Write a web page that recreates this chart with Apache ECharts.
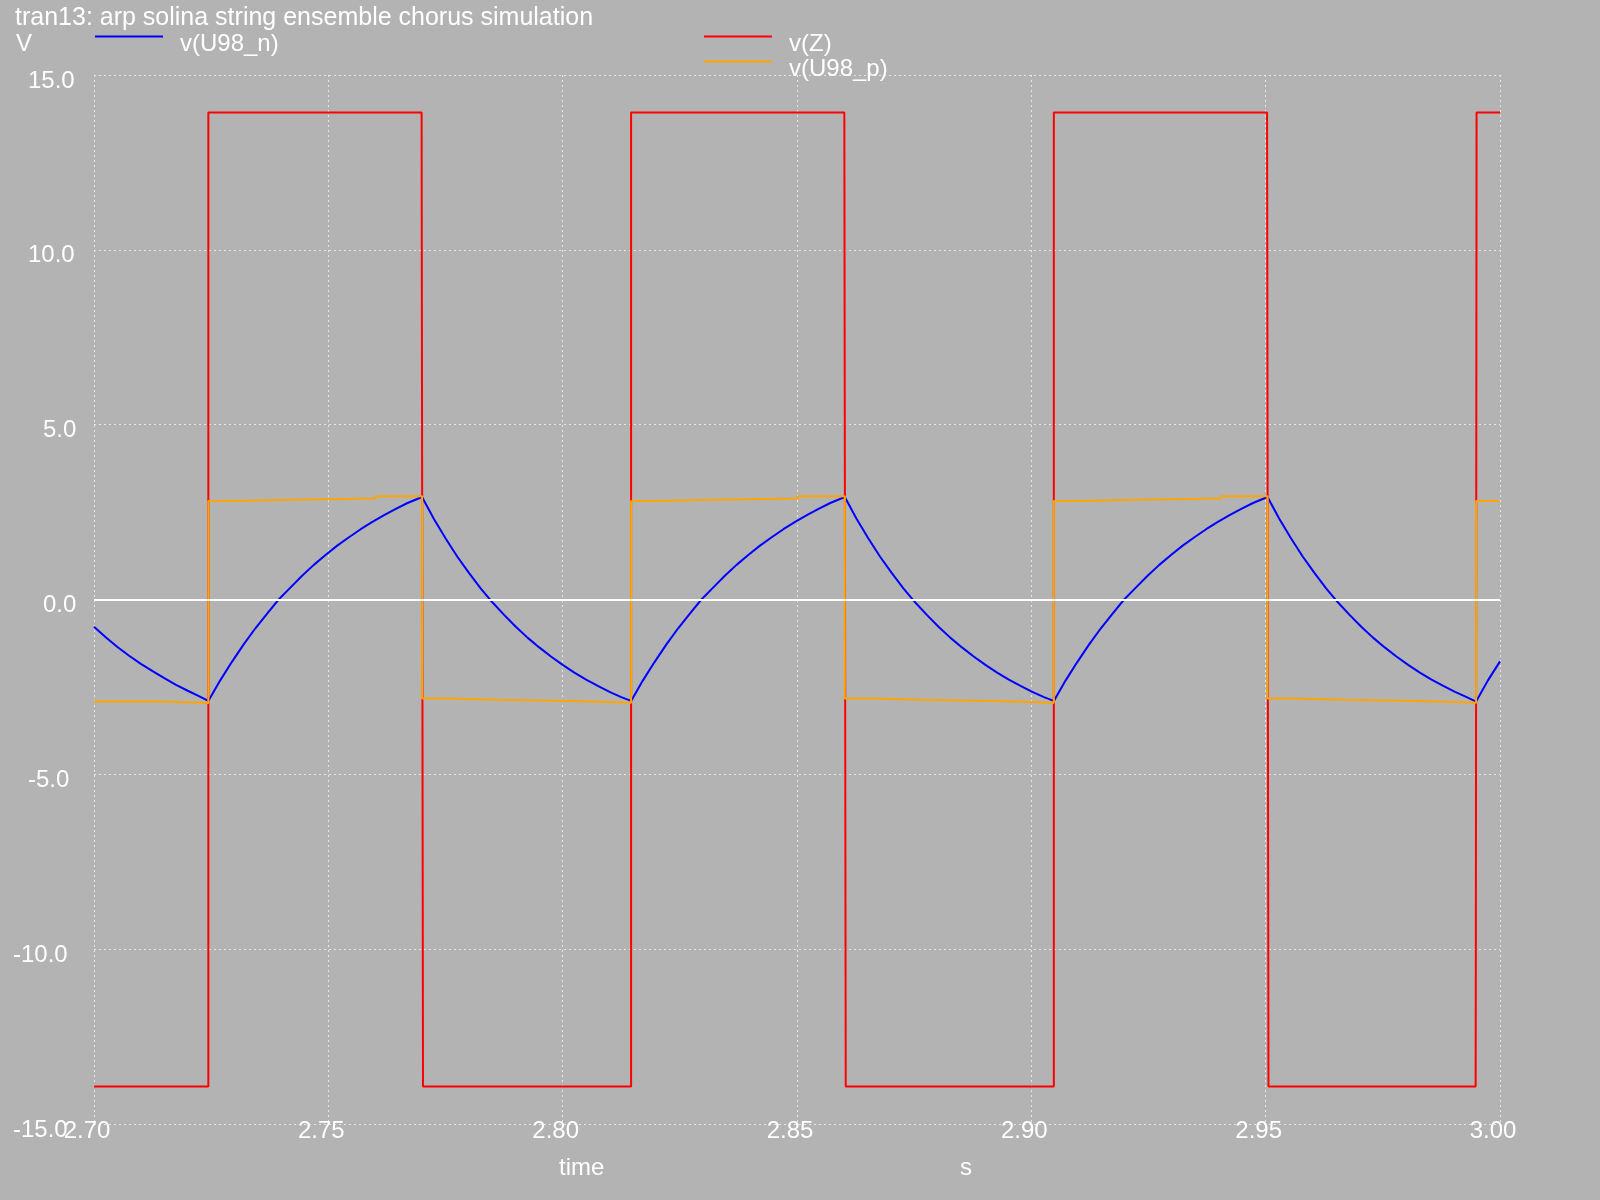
<!DOCTYPE html>
<html>
<head>
<meta charset="utf-8">
<script src="https://cdn.jsdelivr.net/npm/echarts@6/dist/echarts.min.js"></script>
<style>
html,body{margin:0;padding:0;background:#b3b3b3;}
#chart{width:1600px;height:1200px;}
</style>
</head>
<body>
<div id="chart"></div>
<script>
// ---- data ----
const titleText = 'tran13: arp solina string ensemble chorus simulation';
const xTicks = [2.70, 2.75, 2.80, 2.85, 2.90, 2.95, 3.00];
const yTicks = [-15, -10, -5, 0, 5, 10, 15];

// v(U98_n) (blue) — time (s) and voltage (V)
const blueT = [
  2.7000, 2.7025, 2.7050, 2.7075, 2.7100, 2.7125, 2.7150, 2.7175, 2.7200, 2.7225,
  2.7244, 2.7269, 2.7294, 2.7319, 2.7344, 2.7369, 2.7394, 2.7419, 2.7444, 2.7469,
  2.7494, 2.7519, 2.7544, 2.7569, 2.7594, 2.7619, 2.7644, 2.7669, 2.7700,
  2.7725, 2.7750, 2.7775, 2.7800, 2.7825, 2.7850, 2.7875, 2.7900, 2.7925,
  2.7950, 2.7975, 2.8000, 2.8025, 2.8050, 2.8075, 2.8100, 2.8125, 2.8146,
  2.8171, 2.8196, 2.8221, 2.8246, 2.8271, 2.8296, 2.8321, 2.8346, 2.8371,
  2.8396, 2.8421, 2.8446, 2.8471, 2.8496, 2.8521, 2.8546, 2.8571, 2.8602,
  2.8627, 2.8652, 2.8677, 2.8702, 2.8727, 2.8752, 2.8777, 2.8802, 2.8827,
  2.8852, 2.8877, 2.8902, 2.8927, 2.8952, 2.8977, 2.9002, 2.9027, 2.9048,
  2.9073, 2.9098, 2.9123, 2.9148, 2.9173, 2.9198, 2.9223, 2.9248, 2.9273,
  2.9298, 2.9323, 2.9348, 2.9373, 2.9398, 2.9423, 2.9448, 2.9473, 2.9504,
  2.9529, 2.9554, 2.9579, 2.9604, 2.9629, 2.9654, 2.9679, 2.9704, 2.9729,
  2.9754, 2.9779, 2.9804, 2.9829, 2.9854, 2.9879, 2.9904, 2.9929, 2.9949,
  2.9974, 3.0000
];
const blueV = [
  -0.78, -1.08, -1.36, -1.61, -1.84, -2.05, -2.25, -2.44, -2.61, -2.77,
  -2.90, -2.32, -1.79, -1.29, -0.83, -0.41, 0.00, 0.34, 0.68, 0.99,
  1.27, 1.54, 1.78, 2.01, 2.22, 2.41, 2.59, 2.76, 2.93,
  2.31, 1.75, 1.23, 0.76, 0.32, -0.08, -0.44, -0.78, -1.09,
  -1.37, -1.63, -1.87, -2.09, -2.29, -2.47, -2.64, -2.79, -2.90,
  -2.32, -1.79, -1.29, -0.83, -0.41, 0.00, 0.34, 0.68, 0.99,
  1.27, 1.54, 1.78, 2.01, 2.22, 2.41, 2.59, 2.76, 2.93,
  2.31, 1.75, 1.23, 0.76, 0.32, -0.08, -0.44, -0.78, -1.09,
  -1.37, -1.63, -1.87, -2.09, -2.29, -2.47, -2.64, -2.79, -2.90,
  -2.32, -1.79, -1.29, -0.83, -0.41, 0.00, 0.34, 0.68, 0.99,
  1.27, 1.54, 1.78, 2.01, 2.22, 2.41, 2.59, 2.76, 2.93,
  2.31, 1.75, 1.23, 0.76, 0.32, -0.08, -0.44, -0.78, -1.09,
  -1.37, -1.63, -1.87, -2.09, -2.29, -2.47, -2.64, -2.79, -2.92,
  -2.32, -1.77
];

// v(Z) (red)
const redT = [
  2.7000, 2.7244, 2.7244, 2.7699, 2.7702, 2.8146, 2.8146, 2.8601, 2.8604,
  2.9048, 2.9048, 2.9503, 2.9506, 2.9948, 2.99485, 2.9950, 3.0000
];
const redV = [
  -13.93, -13.93, 13.93, 13.93, -13.93, -13.93, 13.93, 13.93, -13.93,
  -13.93, 13.93, 13.93, -13.93, -13.93, -9.6, 13.93, 13.93
];

// v(U98_p) (orange)
const orangeT = [
  2.7000, 2.7140, 2.7140, 2.7244,
  2.7244, 2.7301, 2.7301, 2.7415, 2.7415, 2.7600, 2.7600, 2.7700,
  2.7700, 2.7756, 2.7756, 2.7866, 2.7866, 2.8041, 2.8041, 2.8146,
  2.8146, 2.8203, 2.8203, 2.8317, 2.8317, 2.8502, 2.8502, 2.8602,
  2.8602, 2.8658, 2.8658, 2.8768, 2.8768, 2.8943, 2.8943, 2.9048,
  2.9048, 2.9105, 2.9105, 2.9219, 2.9219, 2.9404, 2.9404, 2.9504,
  2.9504, 2.9560, 2.9560, 2.9670, 2.9670, 2.9845, 2.9845, 2.9949,
  2.9949, 3.0000
];
const orangeV = [
  -2.92, -2.92, -2.96, -2.96,
  2.82, 2.82, 2.85, 2.85, 2.89, 2.89, 2.95, 2.95,
  -2.83, -2.83, -2.87, -2.87, -2.91, -2.91, -2.95, -2.95,
  2.82, 2.82, 2.85, 2.85, 2.89, 2.89, 2.95, 2.95,
  -2.83, -2.83, -2.87, -2.87, -2.91, -2.91, -2.95, -2.95,
  2.82, 2.82, 2.85, 2.85, 2.89, 2.89, 2.95, 2.95,
  -2.83, -2.83, -2.87, -2.87, -2.91, -2.91, -2.95, -2.95,
  2.82, 2.82
];

// ---- build ----
const zip = (t, v) => t.map((x, i) => [x, v[i]]);
const FONT = 'Liberation Sans';
const FS = 24;
const TXT = '#ffffff';
const gridLine = { show: true, lineStyle: { color: '#e6e6e6', width: 1, type: [2, 3] } };

const chart = echarts.init(document.getElementById('chart'), null, { renderer: 'canvas' });

const legendBase = {
  orient: 'horizontal', padding: 0, itemWidth: 68, itemHeight: 2, icon: 'rect',
  itemGap: 0, selectedMode: false,
  formatter: name => '{n|' + name + '}',
  textStyle: {
    color: TXT, fontSize: FS, fontFamily: FONT,
    rich: { n: { color: TXT, fontSize: FS, fontFamily: FONT, padding: [15, 0, 0, 12], lineHeight: 24 } }
  }
};

// y labels: left-aligned in a slot whose width grows with the character count
const yRich = {};
[3, 4, 5].forEach(n => {
  yRich['w' + n] = { width: 15 * n, align: 'left', color: TXT, fontSize: FS, fontFamily: FONT, lineHeight: 12 };
});

chart.setOption({
  animation: false,
  backgroundColor: '#b3b3b3',
  textStyle: { fontFamily: FONT },
  title: {
    text: titleText, left: 10, top: 1,
    textStyle: { color: TXT, fontSize: 25, fontWeight: 'normal', fontFamily: FONT }
  },
  legend: [
    Object.assign({}, legendBase, { data: ['v(U98_n)'], left: 95, top: 17 }),
    Object.assign({}, legendBase, { data: ['v(Z)'], left: 704, top: 17 }),
    Object.assign({}, legendBase, { data: ['v(U98_p)'], left: 704, top: 42 })
  ],
  grid: { left: 94, right: 100, top: 75, bottom: 76, containLabel: false },
  xAxis: {
    type: 'value', min: xTicks[0], max: xTicks[xTicks.length - 1], interval: 0.05,
    axisLine: { show: false }, axisTick: { show: false },
    splitLine: gridLine,
    axisLabel: {
      color: TXT, fontSize: FS, fontFamily: FONT, margin: -5, padding: [0, 14, 0, 0],
      showMinLabel: true, showMaxLabel: true,
      formatter: v => v.toFixed(2)
    }
  },
  yAxis: {
    type: 'value', min: yTicks[0], max: yTicks[yTicks.length - 1], interval: 5,
    axisLine: { show: false }, axisTick: { show: false },
    splitLine: gridLine,
    axisLabel: {
      color: TXT, fontSize: FS, fontFamily: FONT, margin: 6, align: 'right',
      verticalAlign: 'top', lineHeight: 12,
      showMinLabel: true, showMaxLabel: true,
      formatter: v => { const s = v.toFixed(1); return '{w' + s.length + '|' + s + '}'; },
      rich: yRich
    }
  },
  graphic: [
    { type: 'text', left: 16, top: 32, style: { text: 'V', fill: TXT, font: FS + 'px "' + FONT + '"' } },
    { type: 'text', left: 559, top: 1156, style: { text: 'time', fill: TXT, font: FS + 'px "' + FONT + '"' } },
    { type: 'text', left: 960, top: 1156, style: { text: 's', fill: TXT, font: FS + 'px "' + FONT + '"' } }
  ],
  series: [
    {
      name: 'v(U98_n)', type: 'line', data: zip(blueT, blueV), showSymbol: false,
      smooth: false,
      lineStyle: { color: '#0000ff', width: 2 }, itemStyle: { color: '#0000ff' },
      markLine: {
        silent: true, symbol: 'none', label: { show: false }, animation: false,
        lineStyle: { color: '#ffffff', width: 2, type: 'solid' },
        data: [{ yAxis: 0 }]
      },
      z: 2
    },
    {
      name: 'v(Z)', type: 'line', data: zip(redT, redV), showSymbol: false,
      lineStyle: { color: '#ff0000', width: 2 }, itemStyle: { color: '#ff0000' }, z: 3
    },
    {
      name: 'v(U98_p)', type: 'line', data: zip(orangeT, orangeV), showSymbol: false,
      lineStyle: { color: '#ffa500', width: 2 }, itemStyle: { color: '#ffa500' }, z: 4
    }
  ]
});
</script>
</body>
</html>
